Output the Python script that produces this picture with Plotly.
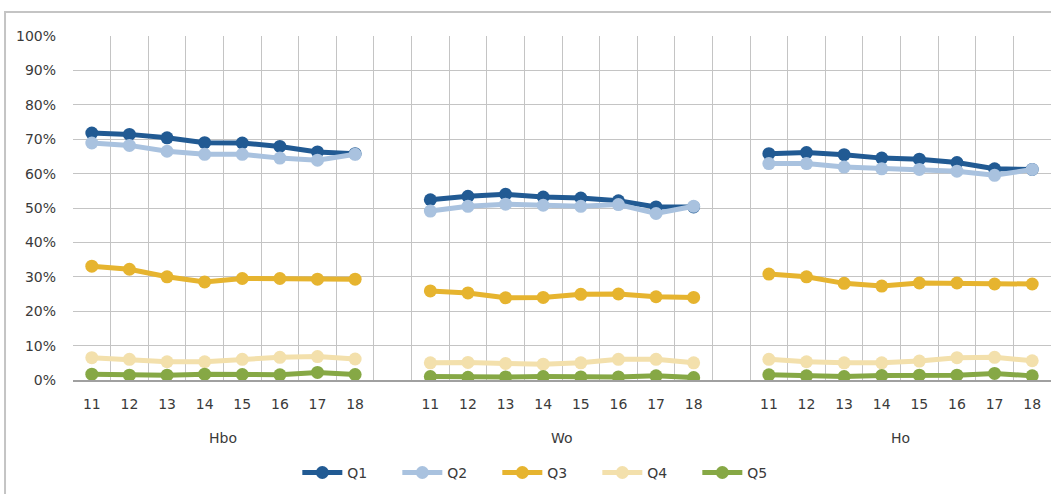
import plotly.graph_objects as go

# Categories
years = ["11", "12", "13", "14", "15", "16", "17", "18"]
groups = ["Hbo", "Wo", "Ho"]
series_names = ["Q1", "Q2", "Q3", "Q4", "Q5"]
colors = ["#215A93", "#A9C2DF", "#E6B42F", "#F3E0AC", "#86A845"]

# Percentages per series, group by group (Hbo, Wo, Ho), years 11..18
q1 = [71.8, 71.4, 70.4, 69.0, 68.9, 67.9, 66.3, 65.8,
      52.4, 53.4, 54.0, 53.2, 52.9, 52.1, 50.3, 50.3,
      65.8, 66.1, 65.5, 64.5, 64.2, 63.2, 61.4, 61.2]
q2 = [68.9, 68.2, 66.5, 65.6, 65.6, 64.5, 63.9, 65.6,
      49.1, 50.5, 51.1, 50.8, 50.5, 51.0, 48.4, 50.5,
      62.9, 62.9, 61.9, 61.4, 61.2, 60.7, 59.5, 61.2]
q3 = [33.1, 32.2, 30.0, 28.5, 29.5, 29.5, 29.3, 29.3,
      25.9, 25.3, 23.9, 24.0, 24.9, 25.0, 24.2, 24.0,
      30.8, 30.0, 28.1, 27.3, 28.2, 28.2, 27.9, 27.9]
q4 = [6.5, 6.0, 5.3, 5.3, 6.0, 6.6, 6.8, 6.1,
      5.0, 5.1, 4.8, 4.6, 5.0, 6.0, 6.0, 5.0,
      6.0, 5.3, 5.0, 5.0, 5.5, 6.5, 6.6, 5.6]
q5 = [1.7, 1.4, 1.4, 1.7, 1.6, 1.5, 2.2, 1.6,
      1.0, 0.8, 0.9, 1.0, 0.9, 0.9, 1.2, 0.7,
      1.5, 1.2, 1.0, 1.3, 1.4, 1.4, 1.9, 1.2]
values = [q1, q2, q3, q4, q5]

FONT = "DejaVu Sans"
TEXT = "#3A3A3A"
n_years = len(years)
slot = n_years + 1  # one empty category between groups

# x positions: groups separated by a blank category, lines broken there
xs, tickvals, ticktext, centers = [], [], [], []
for g in range(len(groups)):
    base = g * slot
    for i in range(n_years):
        xs.append(base + i)
        tickvals.append(base + i)
        ticktext.append(years[i])
    centers.append(base + (n_years - 1) / 2)
    if g < len(groups) - 1:
        xs.append(None)
n_total = len(groups) * slot - 1

fig = go.Figure()
for name, col, vals in zip(series_names, colors, values):
    ys, k = [], 0
    for g in range(len(groups)):
        ys.extend(vals[k:k + n_years])
        k += n_years
        if g < len(groups) - 1:
            ys.append(None)
    fig.add_trace(go.Scatter(
        x=xs, y=ys, name=name, mode="lines+markers",
        line=dict(color=col, width=5),
        marker=dict(color=col, size=13),
        connectgaps=False,
    ))

for g, c in zip(groups, centers):
    fig.add_annotation(x=c, y=-0.17, xref="x", yref="paper", text=g,
                       showarrow=False, yanchor="middle",
                       font=dict(family=FONT, size=14, color=TEXT))

# outer chart frame
fig.add_shape(type="rect", xref="paper", yref="paper",
              x0=-0.0695, x1=1.02, y0=-0.5, y1=1.0698,
              line=dict(color="#C4C4C4", width=2), layer="below")

fig.update_layout(
    width=1051, height=494,
    margin=dict(l=73, r=0, t=36, b=114),
    paper_bgcolor="white", plot_bgcolor="white",
    font=dict(family=FONT, size=14, color=TEXT),
    showlegend=True,
    legend=dict(orientation="h", x=0.485, xanchor="center", y=-0.27,
                yanchor="middle", font=dict(family=FONT, size=14, color=TEXT),
                entrywidth=45, itemwidth=40),
    xaxis=dict(range=[-0.5, n_total - 0.5], tickmode="array",
               tickvals=tickvals, ticktext=ticktext, showgrid=False,
               zeroline=False, showline=True, linecolor="#A0A0A0", linewidth=1.5,
               ticks="", ticklabelstandoff=10,
               minor=dict(tick0=0.5, dtick=1, showgrid=True,
                          gridcolor="#C4C4C4", gridwidth=1.2)),
    yaxis=dict(range=[0, 100], dtick=10, ticksuffix="%", showgrid=True,
               gridcolor="#C4C4C4", gridwidth=1.2, zeroline=False,
               showline=False, ticks="", ticklabelstandoff=16),
)

fig.write_html("out.html")
